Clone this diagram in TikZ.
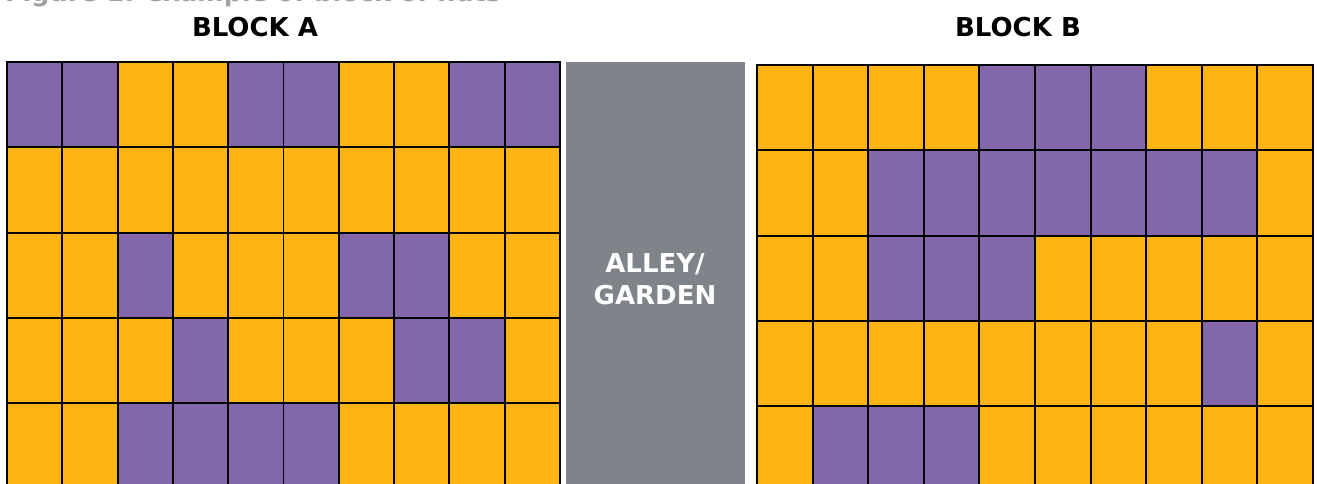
\documentclass[tikz,border=0pt]{standalone}
\usepackage{fontspec}
\setmainfont{DejaVu Sans}
\usepackage{tikz}
\definecolor{hutpurple}{RGB}{130,104,170}
\definecolor{hutgold}{RGB}{253,181,21}
\definecolor{alleygray}{RGB}{126,132,138}
\definecolor{captiongray}{RGB}{160,160,160}

\begin{document}
\begin{tikzpicture}[x=1pt,y=-1pt,
  hut/.style={draw=black,line width=1.9pt},
  head/.style={font=\fontsize{26}{30}\selectfont\bfseries,anchor=base}]
\useasboundingbox (0,0) rectangle (1317,483);
\clip (0,0) rectangle (1317,483);
\node[anchor=base west,text=captiongray,inner sep=0pt,
  font=\fontsize{25.5}{30}\selectfont\bfseries] (caption) at (5,1.5)
  {Figure 1: example of block of huts};
\node[head] (blockA) at (255,36) {BLOCK A};
\node[head] (blockB) at (1018,36) {BLOCK B};
% block A, 1 = purple
\foreach \line [count=\r from 0] in
  {{1,1,0,0,1,1,0,0,1,1},{0,0,0,0,0,0,0,0,0,0},{0,0,1,0,0,0,1,1,0,0},
   {0,0,0,1,0,0,0,1,1,0},{0,0,1,1,1,1,0,0,0,0}}{
  \foreach \v [count=\k from 0] in \line {
    \ifnum\v=1 \def\hue{hutpurple}\else\def\hue{hutgold}\fi
    \filldraw[hut,fill=\hue] ({7+55.3*\k},{62+85.3*\r}) rectangle ++(55.3,85.3);
  }
}
% alley
\fill[alleygray] (566,62) rectangle (745,490);
\node[font=\fontsize{26}{32}\selectfont\bfseries,text=white,align=center]
  (alley) at (655,279) {ALLEY/\\GARDEN};
% block B
\foreach \line [count=\r from 0] in
  {{0,0,0,0,1,1,1,0,0,0},{0,0,1,1,1,1,1,1,1,0},{0,0,1,1,1,0,0,0,0,0},
   {0,0,0,0,0,0,0,0,1,0},{0,1,1,1,0,0,0,0,0,0}}{
  \foreach \v [count=\k from 0] in \line {
    \ifnum\v=1 \def\hue{hutpurple}\else\def\hue{hutgold}\fi
    \filldraw[hut,fill=\hue] ({757+55.6*\k},{65+85.3*\r}) rectangle ++(55.6,85.3);
  }
}
\end{tikzpicture}
\end{document}
